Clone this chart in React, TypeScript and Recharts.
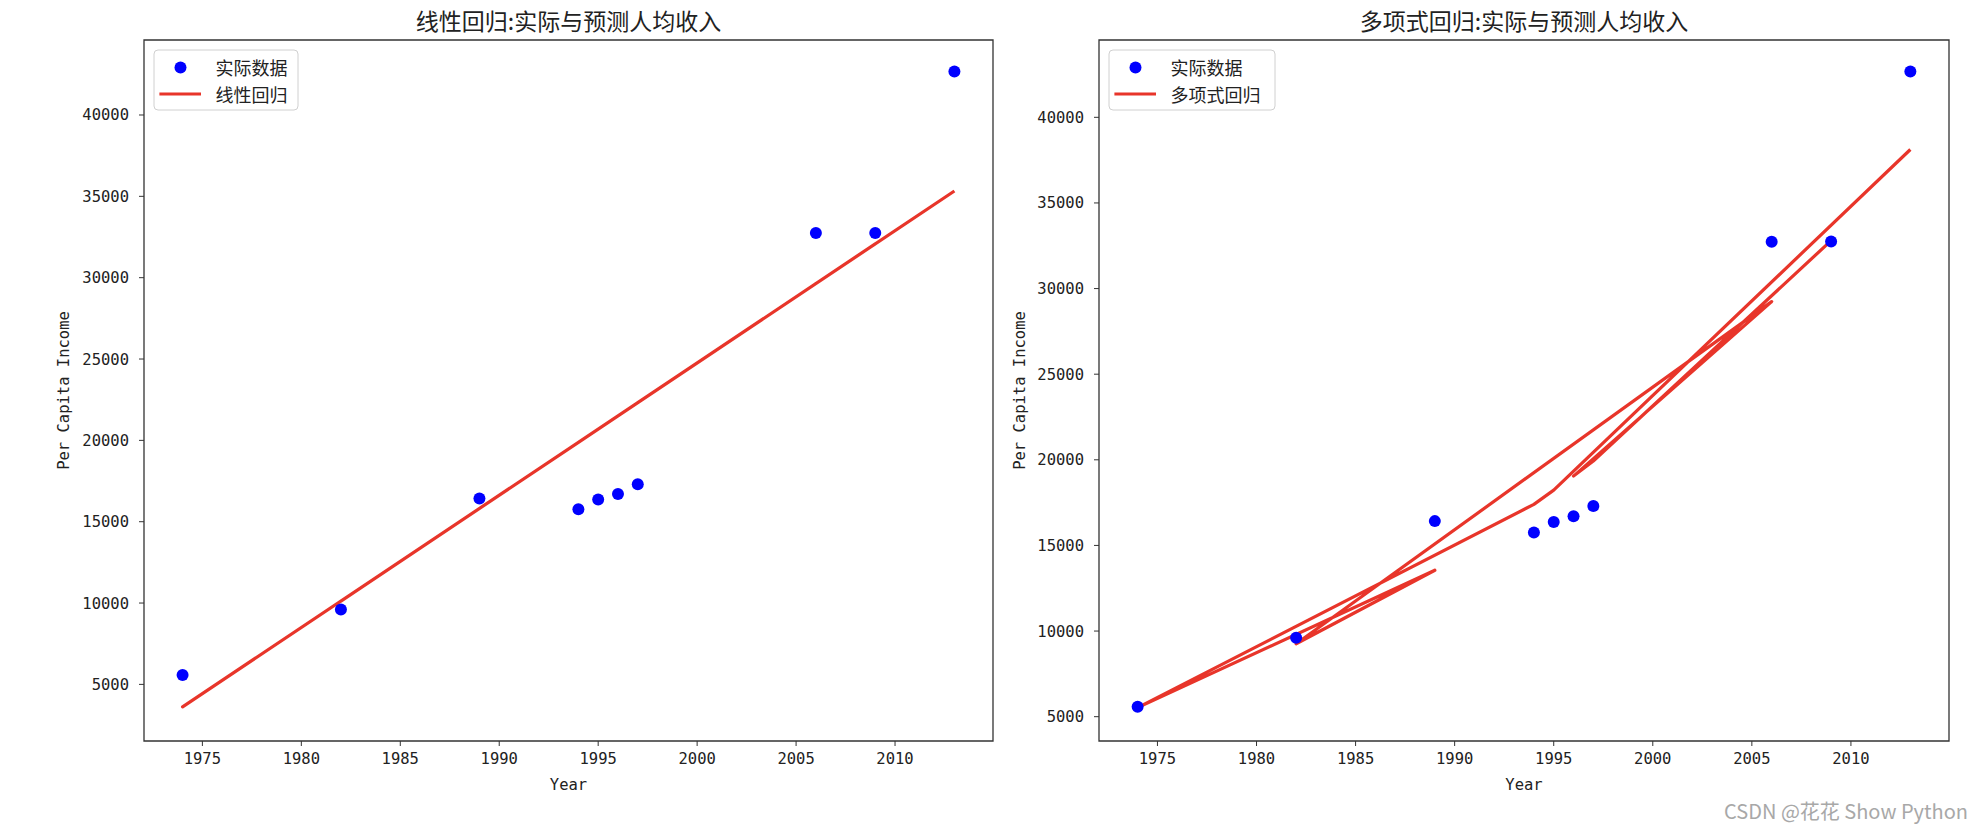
import {
  ComposedChart,
  Line,
  ReferenceArea,
  Scatter,
  XAxis,
  YAxis,
} from "recharts";

// test-set rows, in the order they were plotted
const testYears = [2009, 1997, 1996, 2006, 1982, 1989, 1974, 1994, 1995, 2013];
const actualIncome = [32750, 17300, 16700, 32740, 9610, 16420, 5580, 15760, 16370, 42680];
const linearPred = [32080, 22320, 21500, 29640, 10120, 15810, 3620, 19880, 20690, 35330];
const polyPred = [32800, 19930, 19050, 29240, 9260, 13550, 5530, 17400, 18230, 38120];

const yearTicks = [1975, 1980, 1985, 1990, 1995, 2000, 2005, 2010];
const incomeTicks = [5000, 10000, 15000, 20000, 25000, 30000, 35000, 40000];

const X_DOMAIN: [number, number] = [1972.05, 2014.95];
const LINEAR_Y: [number, number] = [1520, 44610];
const POLY_Y: [number, number] = [3580, 44515];

const RED = "#e8352a";
const BLUE = "#0000ff";
const MONO = "'DejaVu Sans Mono', monospace";
const CJK = "'Noto Sans CJK SC', sans-serif";

type Row = { year: number; actual: number; pred: number };

const buildRows = (pred: number[]): Row[] =>
  testYears.map((year, i) => ({ year, actual: actualIncome[i], pred: pred[i] }));

function Dot(props: { cx?: number; cy?: number }) {
  if (props.cx == null || props.cy == null) return null;
  return <circle cx={props.cx} cy={props.cy} r={6} fill={BLUE} />;
}

type PanelProps = {
  rows: Row[];
  left: number;
  width: number;
  yAxisWidth: number;
  marginRight: number;
  yDomain: [number, number];
};

function RegressionPanel({ rows, left, width, yAxisWidth, marginRight, yDomain }: PanelProps) {
  const tick = { fill: "#222", fontSize: 15.5, fontFamily: MONO };
  return (
    <div style={{ position: "absolute", left, top: 0 }}>
      <ComposedChart
        width={width}
        height={830}
        data={rows}
        margin={{ top: 40, right: marginRight, bottom: 0, left: 0 }}
      >
        <XAxis
          type="number"
          dataKey="year"
          domain={X_DOMAIN}
          ticks={yearTicks}
          interval={0}
          allowDataOverflow
          height={89}
          tickSize={5}
          tickMargin={7}
          axisLine={false}
          tickLine={{ stroke: "#333" }}
          tick={tick}
        />
        <YAxis
          type="number"
          domain={yDomain}
          ticks={incomeTicks}
          interval={0}
          allowDataOverflow
          width={yAxisWidth}
          tickSize={5}
          tickMargin={10}
          axisLine={false}
          tickLine={{ stroke: "#333" }}
          tick={tick}
        />
        <ReferenceArea
          x1={X_DOMAIN[0]}
          x2={X_DOMAIN[1]}
          y1={yDomain[0]}
          y2={yDomain[1]}
          fill="none"
          fillOpacity={0}
          stroke="#333"
          strokeWidth={1.3}
          ifOverflow="visible"
        />
        <Scatter dataKey="actual" shape={<Dot />} isAnimationActive={false} />
        <Line
          type="linear"
          dataKey="pred"
          stroke={RED}
          strokeWidth={3.2}
          strokeLinejoin="round"
          dot={false}
          activeDot={false}
          isAnimationActive={false}
        />
      </ComposedChart>
    </div>
  );
}

function LegendBox({ x, w, label }: { x: number; w: number; label: string }) {
  return (
    <g>
      <rect x={x} y={50} width={w} height={60} rx={4} fill="#fff" fillOpacity={0.8} stroke="#d0d0d0" />
      <circle cx={x + 26.5} cy={67.5} r={6} fill={BLUE} />
      <text x={x + 61.6} y={67} dominantBaseline="central" fontSize={18} fontFamily={CJK} fill="#222">
        实际数据
      </text>
      <line x1={x + 5.4} x2={x + 47} y1={94} y2={94} stroke={RED} strokeWidth={3.2} />
      <text x={x + 61.6} y={93.5} dominantBaseline="central" fontSize={18} fontFamily={CJK} fill="#222">
        {label}
      </text>
    </g>
  );
}

function Annotations() {
  const titleStyle = { fontSize: 23, fontFamily: CJK, fill: "#222" };
  const labelStyle = { fontSize: 15.5, fontFamily: MONO, fill: "#222" };
  return (
    <svg
      width={1982}
      height={830}
      style={{ position: "absolute", left: 0, top: 0, pointerEvents: "none" }}
    >
      <text x={568.5} y={20} textAnchor="middle" dominantBaseline="central" {...titleStyle}>
        线性回归:实际与预测人均收入
      </text>
      <text x={1524} y={20} textAnchor="middle" dominantBaseline="central" {...titleStyle}>
        多项式回归:实际与预测人均收入
      </text>
      <text x={568.5} y={785} textAnchor="middle" dominantBaseline="central" {...labelStyle}>
        Year
      </text>
      <text x={1524} y={785} textAnchor="middle" dominantBaseline="central" {...labelStyle}>
        Year
      </text>
      <text
        x={64}
        y={390.5}
        textAnchor="middle"
        dominantBaseline="central"
        transform="rotate(-90 64 390.5)"
        {...labelStyle}
      >
        Per Capita Income
      </text>
      <text
        x={1020}
        y={390.5}
        textAnchor="middle"
        dominantBaseline="central"
        transform="rotate(-90 1020 390.5)"
        {...labelStyle}
      >
        Per Capita Income
      </text>
      <LegendBox x={154} w={144} label="线性回归" />
      <LegendBox x={1109} w={166} label="多项式回归" />
      <text x={1968} y={810} textAnchor="end" dominantBaseline="central" fontSize={20} fontFamily={CJK} fill="#a8a8a8">
        CSDN @花花 Show Python
      </text>
    </svg>
  );
}

export default function App() {
  return (
    <div
      style={{
        position: "fixed",
        left: 0,
        top: 0,
        width: 1982,
        height: 830,
        background: "#fff",
        overflow: "hidden",
      }}
    >
      <RegressionPanel
        rows={buildRows(linearPred)}
        left={0}
        width={1000}
        yAxisWidth={144}
        marginRight={7}
        yDomain={LINEAR_Y}
      />
      <RegressionPanel
        rows={buildRows(polyPred)}
        left={1000}
        width={982}
        yAxisWidth={99}
        marginRight={33}
        yDomain={POLY_Y}
      />
      <Annotations />
    </div>
  );
}
